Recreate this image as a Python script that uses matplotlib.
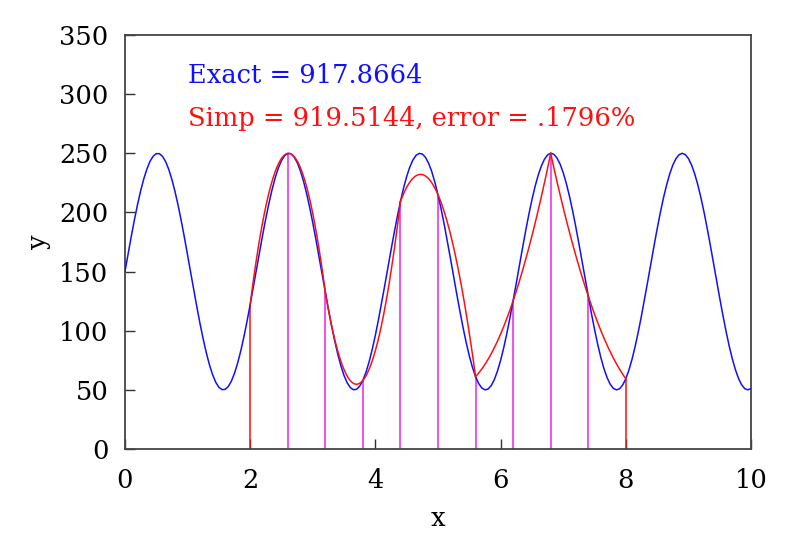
import numpy as np
import matplotlib
matplotlib.use("Agg")
import matplotlib.pyplot as plt

# Blue curve: y values sampled every 0.05 in x from 0 to 10
curve_x = [round(0.05 * k, 2) for k in range(201)]
curve_y = [
    150.0, 165.0, 179.6, 193.5, 206.5, 218.2, 228.3, 236.7, 243.2, 247.5,
    249.7, 249.7, 247.4, 242.9, 236.3, 227.8, 217.5, 205.7, 192.7, 178.7,
    164.1, 149.1, 134.2, 119.6, 105.7, 92.8, 81.2, 71.1, 62.8, 56.4,
    52.2, 50.2, 50.4, 52.8, 57.4, 64.1, 72.7, 83.0, 94.9, 108.0,
    122.1, 136.8, 151.7, 166.6, 181.2, 195.0, 207.8, 219.4, 229.4, 237.6,
    243.8, 248.0, 249.9, 249.6, 247.0, 242.3, 235.5, 226.8, 216.3, 204.4,
    191.2, 177.1, 162.4, 147.5, 132.6, 118.0, 104.2, 91.4, 80.0, 70.1,
    62.0, 55.9, 51.9, 50.1, 50.5, 53.2, 58.0, 64.9, 73.8, 84.3,
    96.3, 109.5, 123.7, 138.4, 153.4, 168.3, 182.7, 196.5, 209.2, 220.6,
    230.4, 238.4, 244.4, 248.3, 249.9, 249.4, 246.6, 241.6, 234.6, 225.6,
    215.0, 202.9, 189.7, 175.5, 160.8, 145.8, 130.9, 116.5, 102.8, 90.1,
    78.8, 69.1, 61.2, 55.3, 51.6, 50.0, 50.7, 53.6, 58.7, 65.9,
    74.9, 85.6, 97.8, 111.1, 125.3, 140.0, 155.0, 169.9, 184.3, 198.0,
    210.6, 221.8, 231.4, 239.2, 244.9, 248.6, 250.0, 249.2, 246.1, 240.9,
    233.7, 224.5, 213.7, 201.5, 188.1, 173.9, 159.1, 144.1, 129.3, 114.9,
    101.3, 88.8, 77.6, 68.1, 60.5, 54.8, 51.3, 50.0, 50.9, 54.1,
    59.4, 66.8, 76.0, 86.9, 99.2, 112.6, 126.9, 141.7, 156.7, 171.5,
    185.9, 199.5, 211.9, 222.9, 232.3, 239.9, 245.4, 248.8, 250.0, 248.9,
    245.6, 240.2, 232.7, 223.4, 212.4, 200.1, 186.6, 172.3, 157.4, 142.4,
    127.6, 113.3, 99.8, 87.4, 76.5, 67.2, 59.7, 54.3, 51.0, 50.0,
    51.2,
]

# Simpson nodes
simp_x = [2.0, 2.6, 3.2, 3.8, 4.4, 5.0, 5.6, 6.2, 6.8, 7.4, 8.0]
simp_y = [122.1, 249.9, 132.6, 58.0, 209.2, 215.0, 61.2, 125.3, 250.0, 129.3, 59.4]

exact_text = "Exact = 917.8664"
simp_text = "Simp = 919.5144, error = .1796%"

x_ticks = [0, 2, 4, 6, 8, 10]
y_ticks = [0, 50, 100, 150, 200, 250, 300, 350]

plt.rcParams['font.family'] = ['DejaVu Serif']

fig = plt.figure(figsize=(7.97, 5.33), dpi=100)
ax = fig.add_axes([0.1568, 0.1576, 0.7855, 0.7767])

blue = '#1010ff'
red = '#ff1010'
magenta = '#ee22ee'

# vertical lines at nodes
vcolors = [red] + [magenta] * (len(simp_x) - 2) + [red]
ax.vlines(simp_x, 0, simp_y, colors=vcolors, linewidth=1.1, zorder=2)

# exact curve
ax.plot(curve_x, curve_y, color=blue, linewidth=1.1, zorder=3)

# Simpson parabolas
for i in range(0, len(simp_x) - 2, 2):
    xs = simp_x[i:i + 3]
    ys = simp_y[i:i + 3]
    coef = np.polyfit(xs, ys, 2)
    xx = np.linspace(xs[0], xs[-1], 100)
    ax.plot(xx, np.polyval(coef, xx), color=red, linewidth=1.1, zorder=4)

ax.set_xlim(0, 10)
ax.set_ylim(0, 350)
ax.set_xticks(x_ticks)
ax.set_yticks(y_ticks)
ax.tick_params(direction='in', length=7, width=1, labelsize=18.5, color='#333333')
ax.tick_params(axis='x', pad=14)
ax.tick_params(axis='y', pad=12)
for s in ax.spines.values():
    s.set_color('#444444')
    s.set_linewidth(1.3)

ax.set_xlabel('x', fontsize=18.5, labelpad=9)
ax.set_ylabel('y', fontsize=18.5, labelpad=6)

ax.text(0.1006, 0.884, exact_text, transform=ax.transAxes, color=blue,
        fontsize=18.5, va='baseline', ha='left')
ax.text(0.1006, 0.780, simp_text, transform=ax.transAxes, color=red,
        fontsize=18.5, va='baseline', ha='left')

fig.savefig('out.png', dpi=100)
